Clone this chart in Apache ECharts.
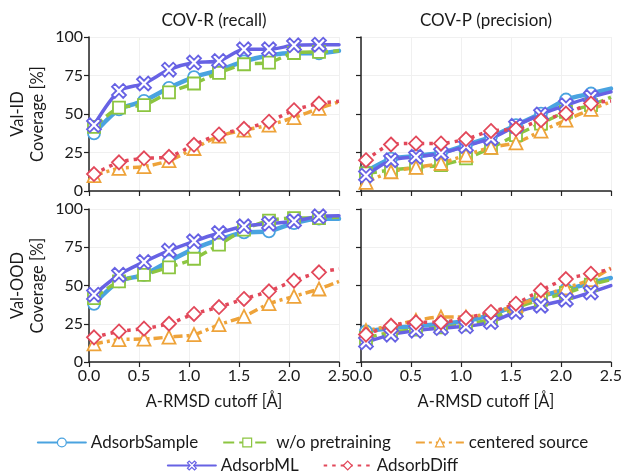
<!DOCTYPE html>
<html lang="en">
<head>
    <meta charset="UTF-8">
    <title>Coverage vs A-RMSD cutoff</title>
    <script src="https://cdn.jsdelivr.net/npm/echarts@6/dist/echarts.min.js"></script>
    <style type="text/css">
        body{
            margin: 0px;
            padding: 0px;
            background: #fff;
        }
        #chart{
            width: 625px;
            height: 471px;
        }
    </style>
</head>
<body>
    <div id="chart"></div>
<script type="text/javascript">
    // x positions of the markers (+ line end at 2.5)
    var cutoffs = [0.05, 0.3, 0.55, 0.8, 1.05, 1.3, 1.55, 1.8, 2.05, 2.3, 2.5];
    var xTicks = [0, 0.5, 1.0, 1.5, 2.0, 2.5];
    var yTicks = [0, 25, 50, 75, 100];

    // COV-R, Val-ID
    var recallIdSample   = [37.4, 53.0, 58.5, 67.0, 74.0, 78.4, 84.2, 88.0, 89.6, 89.4, 91.0];
    var recallIdNoPre    = [41.7, 54.2, 55.7, 64.0, 69.8, 76.7, 82.3, 83.4, 89.6, 90.3, 91.0];
    var recallIdCentered = [10.0, 14.7, 15.8, 19.7, 27.6, 35.6, 39.5, 42.8, 47.7, 53.6, 57.9];
    var recallIdML       = [42.8, 65.0, 69.8, 78.8, 83.4, 84.4, 92.0, 92.0, 94.6, 95.0, 95.0];
    var recallIdDiff     = [11.0, 18.6, 21.2, 22.2, 30.0, 36.7, 40.4, 45.0, 52.5, 56.8, 58.3];

    // COV-P, Val-ID
    var precIdSample   = [12.5, 21.0, 22.7, 24.8, 29.8, 35.2, 42.8, 50.3, 59.4, 63.3, 66.5];
    var precIdNoPre    = [11.4, 13.6, 15.3, 16.8, 21.2, 28.0, 36.3, 43.8, 51.4, 55.7, 61.0];
    var precIdCentered = [5.6, 12.5, 15.3, 18.0, 23.3, 28.3, 31.3, 38.9, 46.0, 53.0, 57.9];
    var precIdML       = [10.0, 20.0, 22.2, 24.4, 29.2, 34.1, 42.3, 49.7, 55.7, 61.0, 64.4];
    var precIdDiff     = [20.0, 30.2, 30.9, 30.9, 33.7, 39.0, 40.2, 46.0, 50.3, 56.8, 58.5];

    // COV-R, Val-OOD
    var recallOodSample   = [38.0, 52.7, 57.0, 65.8, 73.9, 80.0, 84.7, 85.4, 90.8, 93.7, 93.7];
    var recallOodNoPre    = [41.8, 52.7, 57.0, 61.9, 67.5, 76.7, 86.5, 92.4, 94.1, 94.1, 94.8];
    var recallOodCentered = [11.8, 14.6, 15.0, 16.3, 17.9, 24.4, 29.8, 38.1, 42.9, 47.7, 52.7];
    var recallOodML       = [44.0, 57.0, 65.4, 72.8, 78.9, 84.3, 88.7, 90.4, 92.0, 95.2, 95.6];
    var recallOodDiff     = [16.1, 20.0, 21.8, 25.0, 31.4, 35.9, 41.2, 46.2, 53.2, 58.6, 60.8];

    // COV-P, Val-OOD
    var precOodSample   = [20.0, 22.2, 23.3, 25.0, 26.6, 30.9, 36.8, 42.9, 47.3, 51.6, 54.9];
    var precOodNoPre    = [15.7, 19.4, 21.1, 22.7, 24.4, 28.1, 35.3, 40.7, 45.1, 50.5, 53.8];
    var precOodCentered = [20.5, 23.7, 27.2, 29.4, 29.4, 32.0, 36.8, 42.9, 48.4, 53.8, 61.4];
    var precOodML       = [12.9, 17.9, 20.5, 22.2, 23.3, 26.1, 32.7, 36.8, 40.7, 45.5, 49.9];
    var precOodDiff     = [17.9, 23.7, 25.9, 25.9, 28.8, 32.7, 38.1, 46.8, 54.2, 57.7, 60.8];

    var FONT = 'Lato';
    var TXT = '#1a1a1a';
    var xMark = 'path://M2,0 L5,3 L8,0 L10,2 L7,5 L10,8 L8,10 L5,7 L2,10 L0,8 L3,5 L0,2 Z';

    // name, colour, line width, dash, symbol, symbol size
    var styles = {
        'AdsorbSample':    {color: '#4aa3e0', width: 4.5, dash: 'solid', cap: 'round', symbol: 'circle', size: 12},
        'w/o pretraining': {color: '#8cc540', width: 3.5, dash: [11, 5], cap: 'butt', symbol: 'rect', size: 12},
        'centered source': {color: '#eea33a', width: 3.5, dash: [9, 4, 3, 4], cap: 'butt', symbol: 'triangle', size: 13},
        'AdsorbML':        {color: '#6762e4', width: 3.5, dash: 'solid', cap: 'round', symbol: xMark, size: 14},
        'AdsorbDiff':      {color: '#e2485a', width: 3.5, dash: [3.5, 5], cap: 'butt', symbol: 'diamond', size: 14}
    };

    var panels = [
        {grid: 0, sets: [['AdsorbSample', recallIdSample], ['w/o pretraining', recallIdNoPre], ['centered source', recallIdCentered], ['AdsorbML', recallIdML], ['AdsorbDiff', recallIdDiff]]},
        {grid: 1, sets: [['AdsorbSample', precIdSample], ['w/o pretraining', precIdNoPre], ['centered source', precIdCentered], ['AdsorbML', precIdML], ['AdsorbDiff', precIdDiff]]},
        {grid: 2, sets: [['AdsorbSample', recallOodSample], ['w/o pretraining', recallOodNoPre], ['centered source', recallOodCentered], ['AdsorbML', recallOodML], ['AdsorbDiff', recallOodDiff]]},
        {grid: 3, sets: [['AdsorbSample', precOodSample], ['w/o pretraining', precOodNoPre], ['centered source', precOodCentered], ['AdsorbML', precOodML], ['AdsorbDiff', precOodDiff]]}
    ];

    var grids = [
        {left: 89, width: 250, top: 37, height: 154},
        {left: 361, width: 250, top: 37, height: 154},
        {left: 89, width: 250, top: 209, height: 153},
        {left: 361, width: 250, top: 209, height: 153}
    ];

    var xAxes = [], yAxes = [], series = [];
    grids.forEach(function (g, i) {
        var bottom = i >= 2, left = i % 2 === 0;
        xAxes.push({
            type: 'value', gridIndex: i, min: 0, max: 2.5, interval: 0.5,
            name: bottom ? 'A-RMSD cutoff [Å]' : '', nameLocation: 'middle', nameGap: 31,
            nameTextStyle: {fontFamily: FONT, fontSize: 16.5, color: TXT},
            axisLine: {show: true, lineStyle: {color: '#222', width: 1.5}},
            axisTick: {show: true, length: 5, lineStyle: {color: '#222', width: 1.2}},
            axisLabel: {show: bottom, fontFamily: FONT, fontSize: 16, color: TXT, margin: 6,
                showMinLabel: true, showMaxLabel: true,
                formatter: function (v) { return v.toFixed(1); }},
            splitLine: {show: true, lineStyle: {color: '#f0f0f0', width: 1}}
        });
        yAxes.push({
            type: 'value', gridIndex: i, min: 0, max: 100, interval: 25,
            name: left ? (i === 0 ? 'Val-ID\nCoverage [%]' : 'Val-OOD\nCoverage [%]') : '',
            nameLocation: 'middle', nameRotate: 90, nameGap: 41,
            nameTextStyle: {fontFamily: FONT, fontSize: 16.5, color: TXT, lineHeight: 20},
            axisLine: {show: true, lineStyle: {color: '#222', width: 1.5}},
            axisTick: {show: true, length: 5, lineStyle: {color: '#222', width: 1.2}},
            axisLabel: {show: left, fontFamily: FONT, fontSize: 16, color: TXT, margin: 6,
                showMinLabel: true, showMaxLabel: true},
            splitLine: {show: true, lineStyle: {color: '#f0f0f0', width: 1}}
        });
    });

    panels.forEach(function (p) {
        p.sets.forEach(function (s) {
            var st = styles[s[0]];
            var data = cutoffs.map(function (x, k) {
                var item = {value: [x, s[1][k]]};
                if (k === cutoffs.length - 1) item.symbol = 'none';
                return item;
            });
            series.push({
                name: s[0], type: 'line', xAxisIndex: p.grid, yAxisIndex: p.grid,
                data: data, smooth: 0.25, showAllSymbol: true,
                symbol: st.symbol, symbolSize: st.size,
                lineStyle: {color: st.color, width: st.width, type: st.dash, cap: st.cap},
                itemStyle: {color: '#fff', borderColor: st.color, borderWidth: 1.8},
                emphasis: {disabled: true},
                animation: false
            });
        });
    });

    function legendItem(name) {
        var st = styles[name];
        return {name: name, itemStyle: {color: '#fff', borderColor: st.color, borderWidth: 1.2}};
    }

    var legendBase = {
        itemWidth: 48, itemHeight: 11, itemGap: 24,
        textStyle: {fontFamily: FONT, fontSize: 17, color: TXT},
        left: 'center', selectedMode: false
    };

    var chart = echarts.init(document.getElementById('chart'));
    chart.setOption({
        backgroundColor: '#fff',
        animation: false,
        grid: grids,
        xAxis: xAxes,
        yAxis: yAxes,
        graphic: [
            {type: 'text', x: 214, y: 21, style: {text: 'COV-R (recall)', fontFamily: FONT, fontSize: 17, fill: TXT, textAlign: 'center', textVerticalAlign: 'middle'}},
            {type: 'text', x: 486, y: 21, style: {text: 'COV-P (precision)', fontFamily: FONT, fontSize: 17, fill: TXT, textAlign: 'center', textVerticalAlign: 'middle'}}
        ],
        legend: [
            Object.assign({}, legendBase, {top: 429, data: ['AdsorbSample', 'w/o pretraining', 'centered source'].map(legendItem)}),
            Object.assign({}, legendBase, {top: 452, data: ['AdsorbML', 'AdsorbDiff'].map(legendItem)})
        ],
        series: series
    });
</script>
</body>
</html>
